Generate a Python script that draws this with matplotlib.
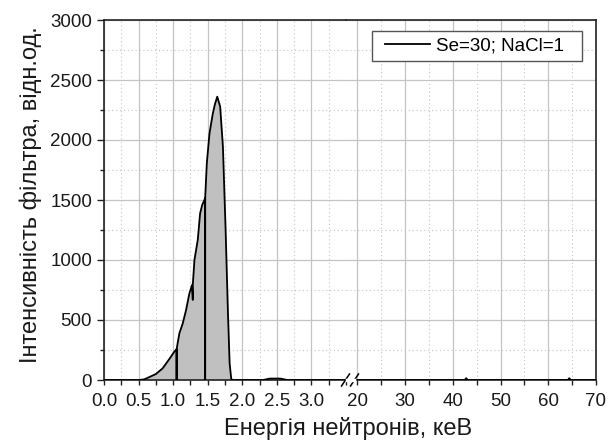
import matplotlib
matplotlib.use("Agg")
import matplotlib.pyplot as plt
from matplotlib.ticker import MultipleLocator
from matplotlib.patches import Rectangle

plt.rcParams['font.family'] = ['Liberation Sans', 'DejaVu Sans']

# Energy (keV) and filter intensity (rel. units)
energy = [0.0, 0.5, 0.58, 0.654, 0.751, 0.848, 0.945, 1.017, 1.05, 1.05, 1.05,
          1.09, 1.138, 1.187, 1.235, 1.274, 1.284, 1.284, 1.308, 1.356, 1.39,
          1.42, 1.463, 1.463, 1.463, 1.487, 1.526, 1.574, 1.605, 1.638, 1.68,
          1.72, 1.759, 1.793, 1.817, 1.84, 1.86, 2.3, 2.4, 2.55, 2.65, 3.5,
          17.6, 42.5, 42.8, 43.1, 64.1, 64.4, 64.7, 70.0]
intensity = [0, 0, 5, 24, 50, 97, 175, 236, 256, 0, 256,
             389, 470, 583, 722, 792, 667, 792, 1000, 1167, 1389,
             1458, 1514, 0, 1514, 1806, 2056, 2222, 2300, 2361, 2278,
             1944, 1250, 556, 139, 10, 0, 0, 12, 12, 0, 0,
             0, 0, 15, 0, 0, 15, 0, 0]

series_label = "Se=30; NaCl=1"
xlabel = "Енергія нейтронів, кеВ"
ylabel = "Інтенсивність фільтра, відн.од."

left_lim = (0.0, 3.5)
right_lim = (17.6, 70.0)
left_ticks = [0.0, 0.5, 1.0, 1.5, 2.0, 2.5, 3.0]
right_ticks = [20, 30, 40, 50, 60, 70]
y_ticks = [0, 500, 1000, 1500, 2000, 2500, 3000]

W, H = 608, 448
fig = plt.figure(figsize=(W / 100, H / 100), dpi=100)
x0, x1, xb = 104, 596, 346
yt, yb = 20, 380
axL = fig.add_axes([x0 / W, 1 - yb / H, (xb - x0) / W, (yb - yt) / H])
axR = fig.add_axes([xb / W, 1 - yb / H, (x1 - xb) / W, (yb - yt) / H], sharey=axL)

fs = 13.5
for ax, lim, ticks, minor in ((axL, left_lim, left_ticks, 0.25), (axR, right_lim, right_ticks, 5)):
    ax.fill_between(energy, intensity, 0, color='#c0c0c0', lw=0, zorder=2)
    ln, = ax.plot(energy, intensity, color='black', lw=1.3, zorder=3, label=series_label)
    ax.set_xlim(*lim)
    ax.set_ylim(0, 3000)
    ax.set_xticks(ticks)
    ax.xaxis.set_minor_locator(MultipleLocator(minor))
    ax.yaxis.set_minor_locator(MultipleLocator(250))
    ax.grid(True, which='major', color='#c4c4c4', lw=0.9, zorder=0)
    ax.grid(True, which='minor', color='#c4c4c4', lw=0.8, ls=(0, (1, 2.5)), zorder=0)
    ax.set_axisbelow(True)
    ax.tick_params(axis='x', which='major', direction='out', length=3.6, width=1,
                   labelsize=fs, pad=5.5, colors='#222222', labelcolor='#1a1a1a')
    ax.tick_params(axis='x', which='minor', direction='out', length=3.6, width=1, colors='#222222')
    ax.tick_params(axis='y', which='major', direction='out', length=5, width=1,
                   labelsize=fs, pad=3.6, colors='#222222', labelcolor='#1a1a1a')
    ax.tick_params(axis='y', which='minor', direction='out', length=3, width=1, colors='#222222')
    for s in ax.spines.values():
        s.set_linewidth(1.2)
        s.set_color('#222222')

axL.set_xticklabels([f"{t:.1f}" for t in left_ticks])
axL.set_yticks(y_ticks)
axL.spines['right'].set_visible(False)
axR.spines['left'].set_visible(False)
axR.tick_params(axis='y', which='both', left=False, labelleft=False)
axR.set_xticklabels([str(t) for t in right_ticks])

# break marks
for dx in (-0.5, 8.5):
    xx = xb + dx
    fig.add_artist(plt.Line2D([(xx - 4) / W, (xx + 4) / W],
                              [1 - (yb + 6) / H, 1 - (yb - 6) / H],
                              color='black', lw=1.1, transform=fig.transFigure))
fig.add_artist(plt.Line2D([(xb + 0.5) / W, (xb + 7.5) / W], [1 - yb / H, 1 - yb / H],
                          color='white', lw=2.5, transform=fig.transFigure))

fig.text(31 / W, 1 - 195 / H, ylabel, rotation=90, ha='center', va='center',
         fontsize=17, color='#1a1a1a')
fig.text(348 / W, 1 - 428 / H, xlabel, ha='center', va='center', fontsize=17, color='#1a1a1a')

# legend: frame drawn separately to match the wider right padding
fig.add_artist(Rectangle((372 / W, 1 - 60.7 / H), (582.3 - 372) / W, 30 / H,
                         transform=fig.transFigure, facecolor='white', edgecolor='#555555',
                         lw=1.0, zorder=5))
leg = fig.legend(handles=[ln], loc='center left', bbox_to_anchor=(385 / W, 1 - 45.7 / H),
                 bbox_transform=fig.transFigure, fontsize=fs, frameon=False,
                 handlelength=2.4, borderaxespad=0, borderpad=0, handletextpad=0.32)
leg.set_zorder(6)

fig.savefig("out.png", dpi=100)
